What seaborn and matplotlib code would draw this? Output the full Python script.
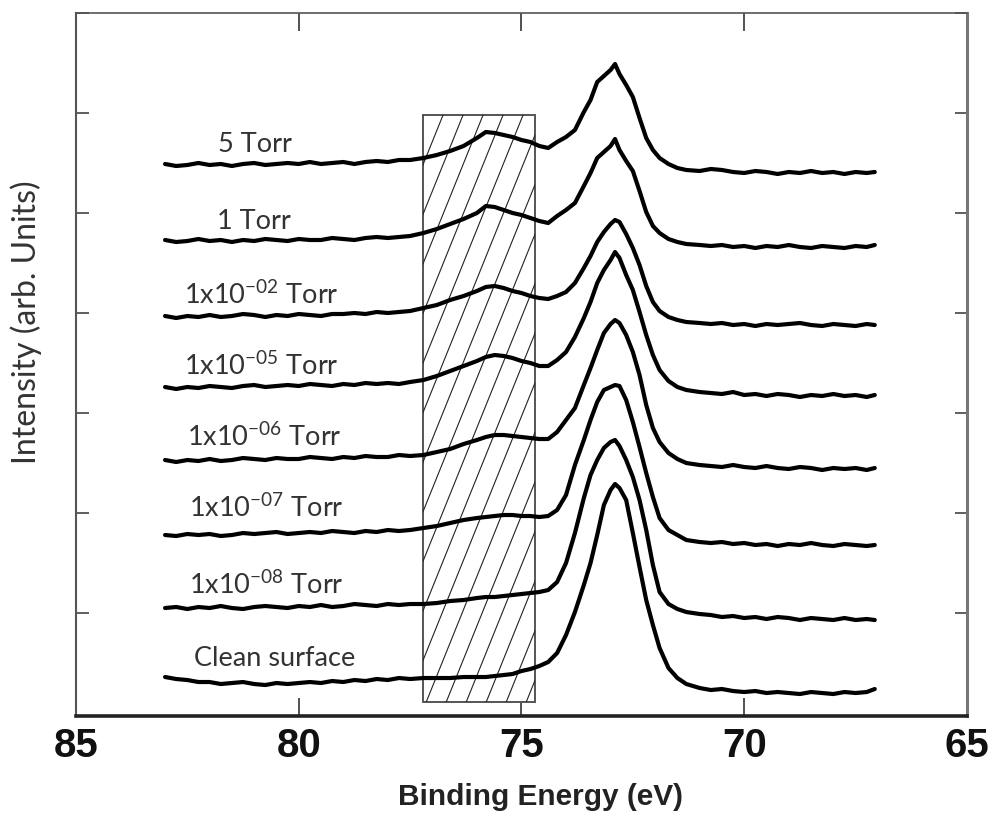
import matplotlib
matplotlib.use("Agg")
import numpy as np
import pandas as pd
import matplotlib.pyplot as plt
from matplotlib.patches import Rectangle
import seaborn as sns

# Binding energy grid (eV) shared by all spectra
energy = [83.0, 82.75, 82.5, 82.25, 82.0, 81.75, 81.5, 81.25, 81.0, 80.75, 80.5,
          80.25, 80.0, 79.75, 79.5, 79.25, 79.0, 78.75, 78.5, 78.25, 78.0, 77.75,
          77.5,
          77.2, 76.9, 76.6, 76.3, 76.0, 75.8, 75.6, 75.4, 75.2, 75.0, 74.8, 74.6,
          74.4, 74.2, 74.0, 73.8, 73.6, 73.45, 73.3, 73.15, 73.0, 72.9, 72.8, 72.65,
          72.5, 72.35, 72.2, 72.05, 71.9, 71.7, 71.5, 71.3,
          71.0, 70.75, 70.5, 70.25, 70.0, 69.75, 69.5, 69.25, 69.0, 68.75, 68.5,
          68.25, 68.0, 67.75, 67.5, 67.25, 67.07]

# Stacked Pt 4f spectra (arb. units, vertical offsets included)
spec_5torr = [5.49, 5.47, 5.48, 5.50, 5.48, 5.49, 5.47, 5.49, 5.50, 5.48, 5.49, 5.50,
              5.49, 5.51, 5.49, 5.50, 5.51, 5.49, 5.51, 5.52, 5.51, 5.53, 5.53,
              5.55, 5.58, 5.62, 5.67, 5.75, 5.81, 5.80, 5.78, 5.76, 5.73, 5.71, 5.67,
              5.65, 5.71, 5.76, 5.83, 6.01, 6.13, 6.31, 6.37, 6.43, 6.49, 6.39, 6.28,
              6.16, 5.95, 5.75, 5.63, 5.55, 5.49, 5.45, 5.43,
              5.42, 5.44, 5.43, 5.41, 5.40, 5.42, 5.41, 5.39, 5.41, 5.40, 5.42, 5.40,
              5.41, 5.39, 5.41, 5.40, 5.41]
spec_1torr = [4.73, 4.71, 4.72, 4.74, 4.72, 4.73, 4.71, 4.73, 4.72, 4.74, 4.73, 4.72,
              4.74, 4.73, 4.73, 4.75, 4.74, 4.73, 4.75, 4.76, 4.75, 4.76, 4.77,
              4.80, 4.84, 4.89, 4.94, 5.00, 5.07, 5.06, 5.03, 5.00, 4.98, 4.95, 4.92,
              4.90, 4.97, 5.03, 5.10, 5.27, 5.40, 5.55, 5.61, 5.67, 5.74, 5.63, 5.52,
              5.42, 5.22, 5.01, 4.87, 4.80, 4.74, 4.71, 4.69,
              4.68, 4.67, 4.68, 4.66, 4.67, 4.65, 4.67, 4.66, 4.68, 4.66, 4.65, 4.67,
              4.66, 4.65, 4.67, 4.66, 4.68]
spec_1e2 = [3.97, 3.95, 3.97, 3.96, 3.98, 3.96, 3.97, 3.99, 3.98, 3.96, 3.98, 3.97,
            3.99, 3.98, 3.97, 3.99, 3.99, 4.00, 3.99, 4.01, 4.00, 4.01, 4.02,
            4.05, 4.08, 4.13, 4.17, 4.22, 4.26, 4.27, 4.25, 4.22, 4.20, 4.17, 4.15,
            4.14, 4.17, 4.21, 4.30, 4.45, 4.57, 4.71, 4.81, 4.89, 4.93, 4.91, 4.79,
            4.65, 4.48, 4.27, 4.11, 4.02, 3.96, 3.93, 3.91,
            3.90, 3.89, 3.90, 3.88, 3.89, 3.87, 3.89, 3.88, 3.89, 3.90, 3.88, 3.87,
            3.89, 3.88, 3.87, 3.89, 3.88]
spec_1e5 = [3.26, 3.24, 3.26, 3.25, 3.27, 3.26, 3.25, 3.27, 3.28, 3.26, 3.27, 3.28,
            3.27, 3.29, 3.28, 3.27, 3.29, 3.28, 3.30, 3.29, 3.30, 3.29, 3.31,
            3.33, 3.37, 3.42, 3.47, 3.52, 3.56, 3.58, 3.57, 3.55, 3.52, 3.50, 3.47,
            3.47, 3.53, 3.61, 3.76, 3.95, 4.11, 4.30, 4.43, 4.53, 4.61, 4.55, 4.38,
            4.23, 4.01, 3.78, 3.58, 3.43, 3.32, 3.26, 3.23,
            3.21, 3.20, 3.19, 3.21, 3.18, 3.19, 3.17, 3.19, 3.18, 3.16, 3.18, 3.17,
            3.19, 3.17, 3.18, 3.16, 3.18]
spec_1e6 = [2.53, 2.51, 2.53, 2.52, 2.54, 2.52, 2.53, 2.55, 2.54, 2.53, 2.55, 2.54,
            2.54, 2.56, 2.55, 2.54, 2.56, 2.55, 2.57, 2.56, 2.56, 2.58, 2.57,
            2.58, 2.61, 2.64, 2.69, 2.73, 2.76, 2.78, 2.78, 2.77, 2.76, 2.75, 2.74,
            2.74, 2.81, 2.93, 3.05, 3.28, 3.45, 3.63, 3.80, 3.89, 3.93, 3.90, 3.78,
            3.61, 3.38, 3.08, 2.85, 2.71, 2.60, 2.54, 2.50,
            2.48, 2.47, 2.46, 2.48, 2.46, 2.45, 2.47, 2.45, 2.44, 2.46, 2.45, 2.43,
            2.45, 2.44, 2.45, 2.43, 2.45]
spec_1e7 = [1.78, 1.77, 1.79, 1.78, 1.79, 1.77, 1.78, 1.80, 1.79, 1.80, 1.81, 1.79,
            1.80, 1.81, 1.80, 1.82, 1.81, 1.80, 1.82, 1.81, 1.83, 1.82, 1.83,
            1.85, 1.87, 1.90, 1.93, 1.95, 1.96, 1.97, 1.98, 1.98, 1.97, 1.97, 1.96,
            1.97, 2.03, 2.18, 2.48, 2.73, 2.93, 3.11, 3.23, 3.26, 3.28, 3.27, 3.13,
            2.91, 2.66, 2.40, 2.16, 1.95, 1.83, 1.78, 1.73,
            1.71, 1.70, 1.71, 1.69, 1.70, 1.68, 1.69, 1.67, 1.69, 1.68, 1.70, 1.68,
            1.67, 1.69, 1.68, 1.67, 1.68]
spec_1e8 = [1.05, 1.06, 1.04, 1.06, 1.05, 1.07, 1.05, 1.04, 1.06, 1.07, 1.06, 1.05,
            1.07, 1.06, 1.08, 1.06, 1.07, 1.09, 1.08, 1.07, 1.09, 1.08, 1.09,
            1.09, 1.10, 1.12, 1.13, 1.15, 1.16, 1.16, 1.17, 1.18, 1.19, 1.20, 1.21,
            1.23, 1.31, 1.50, 1.80, 2.15, 2.38, 2.53, 2.65, 2.71, 2.73, 2.67, 2.53,
            2.36, 2.13, 1.83, 1.48, 1.21, 1.09, 1.04, 1.01,
            0.99, 0.98, 0.96, 0.97, 0.95, 0.96, 0.94, 0.96, 0.95, 0.93, 0.95, 0.94,
            0.93, 0.95, 0.93, 0.94, 0.93]
spec_clean = [0.36, 0.34, 0.33, 0.31, 0.31, 0.29, 0.30, 0.31, 0.29, 0.28, 0.30, 0.29,
              0.30, 0.31, 0.30, 0.32, 0.31, 0.33, 0.32, 0.34, 0.33, 0.35, 0.34,
              0.35, 0.35, 0.35, 0.36, 0.36, 0.36, 0.37, 0.38, 0.39, 0.42, 0.44, 0.47,
              0.51, 0.60, 0.78, 1.01, 1.28, 1.50, 1.78, 2.08, 2.23, 2.29, 2.25, 2.13,
              1.80, 1.46, 1.13, 0.88, 0.65, 0.45, 0.35, 0.29,
              0.25, 0.23, 0.24, 0.22, 0.21, 0.22, 0.20, 0.21, 0.20, 0.19, 0.21, 0.20,
              0.19, 0.21, 0.20, 0.21, 0.24]

conditions = ["5 Torr", "1 Torr", "1x10$^{-02}$ Torr", "1x10$^{-05}$ Torr",
              "1x10$^{-06}$ Torr", "1x10$^{-07}$ Torr", "1x10$^{-08}$ Torr",
              "Clean surface"]
spectra = [spec_5torr, spec_1torr, spec_1e2, spec_1e5, spec_1e6, spec_1e7,
           spec_1e8, spec_clean]
label_x = [80.98, 81.0, 80.83, 80.83, 80.78, 80.72, 80.72, 80.53]
label_y = [5.68, 4.91, 4.18, 3.47, 2.76, 2.05, 1.28, 0.55]

# Oxide region highlighted by the hatched box
oxide_lo, oxide_hi = 74.70, 77.21
box_bottom, box_top = 0.11, 5.98

x_ticks = [85, 80, 75, 70, 65]
y_ticks = [1, 2, 3, 4, 5, 6, 7]

df = pd.DataFrame({
    "energy": np.tile(energy, len(spectra)),
    "intensity": np.concatenate(spectra),
    "condition": np.repeat(conditions, len(energy)),
})

sns.set_style("ticks")
plt.rcParams["font.family"] = ["Lato", "DejaVu Sans"]
plt.rcParams["mathtext.default"] = "regular"

fig = plt.figure(figsize=(9.93, 8.17), dpi=100)
ax = fig.add_axes([0.0765, 0.1236, 0.8973, 0.8605])

# hatched box with steep diagonal lines, clipped to the box outline
rect = Rectangle((oxide_lo, box_bottom), oxide_hi - oxide_lo, box_top - box_bottom,
                 facecolor="white", edgecolor="#555555", lw=1.4, zorder=1)
ax.add_patch(rect)
slope = 1.104  # data-unit drop per eV toward higher binding energy
span = (box_top - box_bottom) / slope
for e_top in np.arange(76.76 - 0.449 * 18, 77.5, 0.449):
    ln, = ax.plot([e_top, e_top + span + 0.5],
                  [box_top, box_bottom - 0.5 * slope],
                  color="#222222", lw=0.8, zorder=1.5)
    ln.set_clip_path(rect)

sns.lineplot(data=df, x="energy", y="intensity", units="condition",
             estimator=None, sort=False, color="black", lw=3.0, ax=ax, zorder=3)

for text, xl, yl in zip(conditions, label_x, label_y):
    ax.text(xl, yl, text, ha="center", va="center", fontsize=19.5,
            color="#333333", zorder=4)

ax.set_xlim(85, 65)
ax.set_ylim(-0.03, 7.0)
ax.set_xticks(x_ticks)
ax.set_xticklabels([str(t) for t in x_ticks], fontsize=29, fontweight="bold",
                   family=["Liberation Sans", "DejaVu Sans"], color="#111111")
ax.set_yticks(y_ticks)
ax.set_yticklabels([])

ax.tick_params(axis="x", direction="in", length=13, width=1.2, color="#333333",
               top=True, pad=8)
ax.tick_params(axis="y", direction="in", length=9, width=1.2, color="#444444",
               right=True)

for side, lw, col in [("bottom", 2.6, "#222222"), ("left", 1.5, "#555555"),
                      ("top", 1.2, "#555555"), ("right", 2.2, "#777777")]:
    ax.spines[side].set_linewidth(lw)
    ax.spines[side].set_color(col)
    ax.spines[side].set_visible(True)

ax.set_xlabel("Binding Energy (eV)", fontsize=21.5, fontweight="bold",
              family=["Liberation Sans", "DejaVu Sans"], color="#222222")
ax.xaxis.set_label_coords(0.521, -0.095)
ax.set_ylabel("Intensity (arb. Units)", fontsize=23, color="#333333")
ax.yaxis.set_label_coords(-0.038, 0.56)

fig.savefig("out.png", dpi=100, facecolor="white")
